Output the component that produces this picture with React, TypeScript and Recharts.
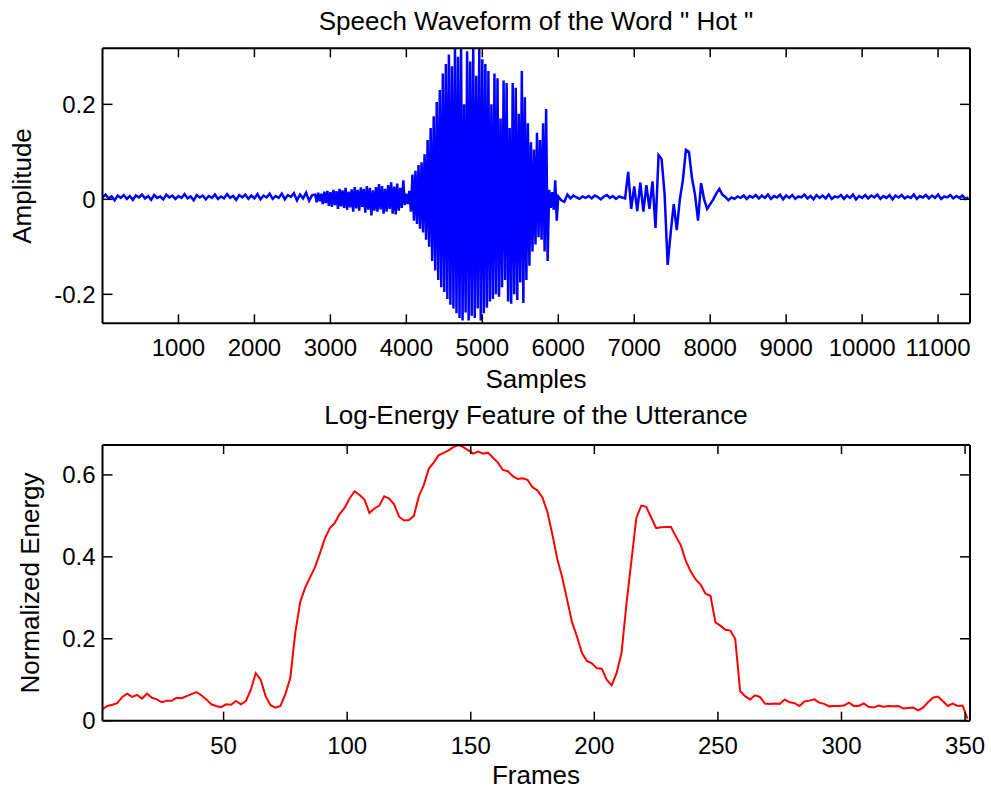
import { LineChart, Line, XAxis, YAxis } from 'recharts'

// waveform: quiet lead-in (every 40 samples),
// voiced part (every 20 samples, alternating peak / trough), tail (every 40 samples)
const LEAD_START = 0
const LEAD_STEP = 40
const LEAD = [
  0.004, 0.010, 0.002, 0.006, -0.002, 0.008, 0.003, 0.009, 0.001, 0.007,
  -0.001, 0.008, 0.004, 0.010, 0.002, 0.007, -0.001, 0.009, 0.003, 0.006,
  0.000, 0.010, 0.004, 0.008, 0.001, 0.007, 0.003, 0.011, 0.002, 0.006,
  -0.002, 0.009, 0.004, 0.008, 0.000, 0.007, 0.003, 0.010, 0.001, 0.006,
  0.002, 0.011, 0.003, 0.007, -0.001, 0.009, 0.004, 0.010, 0.001, 0.008,
  0.002, 0.011, 0.000, 0.008, 0.004, 0.012, 0.001, 0.007, 0.003, 0.012,
  0.000, 0.009, 0.005, 0.013, -0.002, 0.010, 0.002, 0.014, -0.003, 0.009,
]
const VOICED_START = 2800
const VOICED_STEP = 20
const VOICED = [
  0.010, -0.006, 0.014, -0.004, 0.012, -0.010, 0.016, -0.008, 0.018, -0.014,
  0.015, -0.016, 0.020, -0.012, 0.017, -0.020, 0.022, -0.015, 0.019, -0.018,
  0.024, -0.022, 0.016, -0.017, 0.021, -0.026, 0.026, -0.019, 0.020, -0.024,
  0.025, -0.016, 0.022, -0.028, 0.028, -0.022, 0.024, -0.034, 0.019, -0.024,
  0.026, -0.026, 0.032, -0.021, 0.028, -0.030, 0.022, -0.026, 0.030, -0.020,
  0.036, -0.030, 0.027, -0.032, 0.033, -0.024, 0.024, -0.018, 0.040, -0.012,
  0.012, -0.010, 0.018, -0.026, 0.052, -0.045, 0.060, -0.052, 0.072, -0.062,
  0.078, -0.070, 0.095, -0.085, 0.125, -0.100, 0.150, -0.130, 0.175, -0.150,
  0.205, -0.170, 0.230, -0.185, 0.265, -0.195, 0.285, -0.210, 0.305, -0.222,
  0.280, -0.230, 0.318, -0.240, 0.300, -0.250, 0.318, -0.255, 0.200, -0.238,
  0.312, -0.255, 0.290, -0.245, 0.318, -0.250, 0.260, -0.230, 0.318, -0.255,
  0.295, -0.240, 0.285, -0.228, 0.270, -0.215, 0.200, -0.210, 0.265, -0.200,
  0.255, -0.205, 0.170, -0.185, 0.250, -0.170, 0.245, -0.215, 0.150, -0.220,
  0.245, -0.200, 0.235, -0.212, 0.180, -0.175, 0.270, -0.218, 0.215, -0.170,
  0.160, -0.140, 0.120, -0.110, 0.105, -0.095, 0.140, -0.080, 0.125, -0.085,
  0.160, -0.110, 0.190, -0.130, 0.020, -0.018, 0.015, -0.022, 0.040, -0.045,
]
const TAIL_START = 6000
const TAIL_STEP = 40
const TAIL = [
  0.006, -0.002, -0.005, 0.010, 0.002, 0.008, 0.004, 0.001, 0.006, 0.003,
  0.007, 0.002, 0.008, 0.005, 0.000, 0.006, 0.009, 0.003, 0.007, 0.001,
  0.006, 0.004, 0.002, 0.058, -0.020, 0.027, -0.025, 0.035, -0.026, 0.030,
  -0.020, 0.038, -0.060, 0.093, 0.085, 0.010, -0.138, -0.070, -0.010, -0.065,
  0.000, 0.040, 0.104, 0.100, 0.045, 0.010, -0.045, 0.034, 0.000, -0.020,
  -0.010, 0.000, 0.012, 0.022, 0.010, 0.005, -0.002, 0.004, 0.001, 0.006,
  0.003, 0.008, 0.001, 0.007, 0.004, 0.009, 0.002, 0.008, 0.003, 0.010,
  0.001, 0.007, 0.004, 0.010, 0.000, 0.008, 0.003, 0.009, 0.001, 0.006,
  0.004, 0.010, 0.002, 0.007, 0.000, 0.009, 0.003, 0.008, 0.002, 0.010,
  0.001, 0.006, 0.004, 0.009, 0.001, 0.008, 0.003, 0.010, 0.000, 0.007,
  0.003, 0.009, 0.002, 0.008, 0.004, 0.010, 0.001, 0.007, 0.003, 0.009,
  0.000, 0.008, 0.004, 0.009, 0.002, 0.006, 0.003, 0.010, 0.001, 0.007,
  0.004, 0.009, 0.002, 0.008, 0.003, 0.010, 0.001, 0.006, 0.004, 0.009,
  0.002, 0.007, 0.003, 0.008, 0.001, 0.004,
]
const SAMPLE_DOMAIN = [0, 11420]
const SAMPLE_TICKS = [1000, 2000, 3000, 4000, 5000, 6000, 7000, 8000, 9000, 10000, 11000]
const AMP_DOMAIN = [-0.261, 0.318]
const AMP_TICKS = [-0.2, 0, 0.2]

// log-energy, every second frame starting at frame 1
const FRAME_STEP = 2
const ENERGY = [
  0.028, 0.036, 0.039, 0.043, 0.058, 0.066, 0.058, 0.063, 0.054, 0.066,
  0.056, 0.052, 0.045, 0.049, 0.049, 0.056, 0.055, 0.060, 0.065, 0.070,
  0.062, 0.052, 0.040, 0.036, 0.033, 0.040, 0.039, 0.048, 0.040, 0.048,
  0.075, 0.116, 0.100, 0.060, 0.038, 0.032, 0.036, 0.065, 0.105, 0.215,
  0.290, 0.325, 0.350, 0.375, 0.409, 0.445, 0.470, 0.483, 0.505, 0.520,
  0.543, 0.560, 0.551, 0.540, 0.507, 0.518, 0.525, 0.548, 0.542, 0.528,
  0.498, 0.489, 0.490, 0.500, 0.548, 0.575, 0.615, 0.630, 0.648, 0.654,
  0.660, 0.668, 0.673, 0.668, 0.660, 0.652, 0.657, 0.652, 0.654, 0.642,
  0.630, 0.612, 0.609, 0.597, 0.590, 0.592, 0.588, 0.570, 0.562, 0.545,
  0.510, 0.455, 0.395, 0.350, 0.295, 0.240, 0.205, 0.165, 0.146, 0.140,
  0.128, 0.127, 0.100, 0.086, 0.116, 0.165, 0.285, 0.390, 0.495, 0.525,
  0.522, 0.496, 0.470, 0.472, 0.473, 0.473, 0.450, 0.428, 0.390, 0.364,
  0.345, 0.332, 0.310, 0.305, 0.240, 0.232, 0.222, 0.220, 0.200, 0.072,
  0.060, 0.052, 0.062, 0.058, 0.042, 0.041, 0.042, 0.041, 0.052, 0.045,
  0.043, 0.036, 0.047, 0.049, 0.052, 0.044, 0.041, 0.035, 0.036, 0.036,
  0.037, 0.044, 0.036, 0.036, 0.042, 0.034, 0.032, 0.037, 0.034, 0.036,
  0.035, 0.036, 0.030, 0.031, 0.032, 0.025, 0.032, 0.045, 0.056, 0.059,
  0.048, 0.036, 0.042, 0.036, 0.037, 0.005,
]
const FRAME_DOMAIN = [1, 352]
const FRAME_TICKS = [50, 100, 150, 200, 250, 300, 350]
const ENERGY_DOMAIN = [0, 0.673]
const ENERGY_TICKS = [0, 0.2, 0.4, 0.6]

const FONT = '"Liberation Sans", Arial, Helvetica, sans-serif'
const axisLine = { stroke: '#000', strokeWidth: 2 }
const tickLine = { stroke: '#000', strokeWidth: 1.5 }
const tickText = { fill: '#000', fontSize: 24, fontFamily: FONT }
const noLabel = () => <g />

function Panel({ data, xKey, yKey, color, width, xDomain, xTicks, yDomain, yTicks, height, top, bottom }: any) {
  // top/right axes get 1px so Recharts still draws them (box + inward ticks)
  return (
    <LineChart width={991} height={height} data={data} margin={{ top: top - 1, right: 20, bottom: 0, left: 0 }}>
      <XAxis type="number" dataKey={xKey} domain={xDomain} ticks={xTicks} allowDataOverflow interval={0}
        height={bottom} axisLine={axisLine} tickLine={tickLine} tickSize={-9} tickMargin={25} tick={tickText} />
      <XAxis xAxisId="top" orientation="top" type="number" dataKey={xKey} domain={xDomain} ticks={xTicks}
        allowDataOverflow interval={0} height={1} axisLine={axisLine} tickLine={tickLine} tickSize={-9} tick={noLabel} />
      <YAxis type="number" domain={yDomain} ticks={yTicks} allowDataOverflow interval={0} width={102.5}
        axisLine={axisLine} tickLine={tickLine} tickSize={-10} tickMargin={17} tick={tickText} />
      <YAxis yAxisId="right" orientation="right" type="number" domain={yDomain} ticks={yTicks} allowDataOverflow
        interval={0} width={1} axisLine={axisLine} tickLine={tickLine} tickSize={-10} tick={noLabel} />
      <Line type="linear" dataKey={yKey} stroke={color} strokeWidth={width} dot={false} isAnimationActive={false} />
    </LineChart>
  )
}

function Caption({ x, y, text, rotate }: { x: number; y: number; text: string; rotate?: boolean }) {
  return (
    <div style={{
      position: 'absolute', left: x, top: y, fontFamily: FONT, fontSize: 26, lineHeight: '26px',
      whiteSpace: 'pre', color: '#000',
      transform: `translate(-50%, -50%)${rotate ? ' rotate(-90deg)' : ''}`,
    }}>{text}</div>
  )
}

export default function App() {
  const wave = [
    ...LEAD.map((amp, i) => ({ sample: LEAD_START + i * LEAD_STEP, amp })),
    ...VOICED.map((amp, i) => ({ sample: VOICED_START + i * VOICED_STEP, amp })),
    ...TAIL.map((amp, i) => ({ sample: TAIL_START + i * TAIL_STEP, amp })),
  ]
  const energy = ENERGY.map((value, i) => ({ frame: 1 + i * FRAME_STEP, value }))

  return (
    <div style={{ position: 'absolute', left: 0, top: 0, width: 991, height: 791, background: '#fff' }}>
      <div style={{ position: 'absolute', left: 0, top: 0 }}>
        <Panel data={wave} xKey="sample" yKey="amp" color="#0000ff" width={2.5} xDomain={SAMPLE_DOMAIN}
          xTicks={SAMPLE_TICKS} yDomain={AMP_DOMAIN} yTicks={AMP_TICKS} height={400} top={48.3} bottom={76.7} />
      </div>
      <div style={{ position: 'absolute', left: 0, top: 400 }}>
        <Panel data={energy} xKey="frame" yKey="value" color="#ff0000" width={2} xDomain={FRAME_DOMAIN}
          xTicks={FRAME_TICKS} yDomain={ENERGY_DOMAIN} yTicks={ENERGY_TICKS} height={391} top={45} bottom={70.3} />
      </div>
      <Caption x={536} y={20.5} text={'Speech Waveform of the Word " Hot "'} />
      <Caption x={536} y={379} text="Samples" />
      <Caption x={22} y={186} text="Amplitude" rotate />
      <Caption x={536} y={415} text="Log-Energy Feature of the Utterance" />
      <Caption x={536} y={775} text="Frames" />
      <Caption x={30} y={583} text="Normalized Energy" rotate />
    </div>
  )
}
